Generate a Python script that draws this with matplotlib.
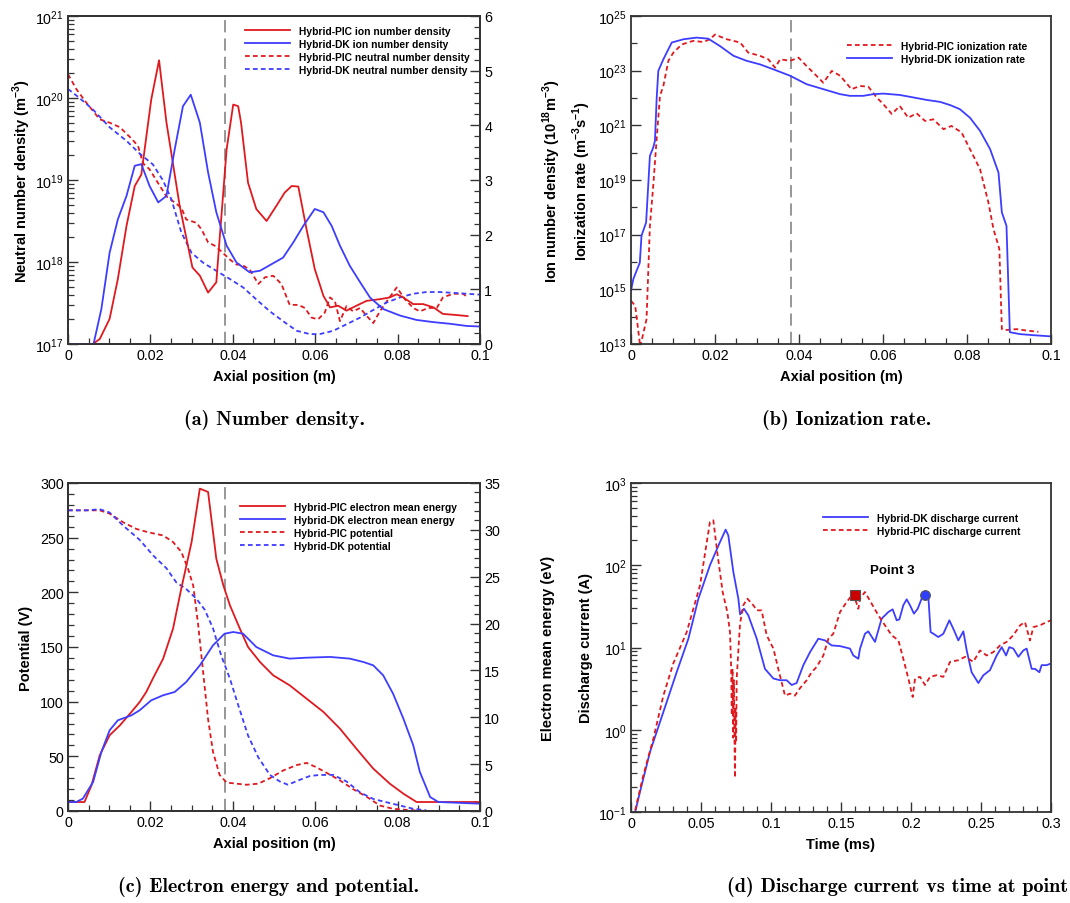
import matplotlib
matplotlib.use("Agg")
import matplotlib.pyplot as plt
from matplotlib.ticker import (FixedLocator, MultipleLocator, NullFormatter,
                               LogFormatterSciNotation, LogLocator, FuncFormatter)

plt.rcParams['font.family'] = ['Liberation Sans', 'DejaVu Sans']
plt.rcParams['mathtext.fontset'] = 'custom'
plt.rcParams['mathtext.rm'] = 'Liberation Sans'
plt.rcParams['mathtext.bf'] = 'Liberation Sans:bold'

RED = '#e0191e'
BLUE = '#3d3dff'
GRAY = '#7a7a7a'
SPINE = '#333333'

# ---------------- (a) number density ----------------
x_pic_ion = [0, 0.006, 0.0077, 0.0101, 0.0121, 0.0142, 0.0162, 0.0178, 0.0202, 0.0221,
             0.0239, 0.0271, 0.0302, 0.032, 0.034, 0.036, 0.0368, 0.0385, 0.0401, 0.0413,
             0.042, 0.0437, 0.0457, 0.0482, 0.0506, 0.0526, 0.0543, 0.0559, 0.0579, 0.0599,
             0.062, 0.0636, 0.0656, 0.0676, 0.070, 0.0725, 0.0757, 0.078, 0.0798, 0.0814,
             0.0838, 0.0862, 0.0887, 0.091, 0.0943, 0.097]
n_pic_ion = [0.0, 0.0, 0.09, 0.46, 1.19, 2.16, 2.89, 3.1, 4.47, 5.19,
             4.05, 2.53, 1.40, 1.25, 0.94, 1.13, 1.92, 3.56, 4.38, 4.35,
             4.05, 2.95, 2.47, 2.25, 2.53, 2.77, 2.89, 2.88, 2.10, 1.37,
             0.88, 0.67, 0.70, 0.61, 0.70, 0.79, 0.82, 0.85, 0.91, 0.85,
             0.73, 0.73, 0.67, 0.55, 0.53, 0.51]

x_dk_ion = [0, 0.0062, 0.0081, 0.0101, 0.0121, 0.0142, 0.0162, 0.0178, 0.0198, 0.0219,
            0.0239, 0.0259, 0.0279, 0.0298, 0.032, 0.034, 0.036, 0.0385, 0.0409, 0.0441,
            0.0466, 0.0494, 0.0522, 0.0547, 0.0571, 0.0599, 0.062, 0.064, 0.066, 0.0684,
            0.0709, 0.0733, 0.0765, 0.0806, 0.0846, 0.0887, 0.0927, 0.0968, 0.1]
n_dk_ion = [0.0, 0.0, 0.64, 1.67, 2.28, 2.71, 3.26, 3.29, 2.89, 2.59,
            2.71, 3.56, 4.35, 4.56, 4.05, 3.14, 2.41, 1.80, 1.49, 1.31,
            1.34, 1.46, 1.58, 1.86, 2.16, 2.47, 2.41, 2.16, 1.80, 1.43,
            1.13, 0.85, 0.64, 0.52, 0.44, 0.40, 0.37, 0.33, 0.32]

x_pic_neu = [0, 0.002, 0.0045, 0.0077, 0.0101, 0.0126, 0.0154, 0.017, 0.0182, 0.0198,
             0.0215, 0.0239, 0.0255, 0.0275, 0.0287, 0.0312, 0.0324, 0.034, 0.0356, 0.0372,
             0.0393, 0.0409, 0.0421, 0.0441, 0.0462, 0.0478, 0.0498, 0.0518, 0.0538, 0.0559,
             0.0575, 0.0591, 0.0607, 0.0623, 0.0636, 0.0648, 0.066, 0.0676, 0.0692, 0.0709,
             0.0725, 0.0741, 0.0757, 0.0777, 0.0798, 0.0818, 0.0838, 0.0854, 0.0874, 0.0895,
             0.091, 0.0935, 0.0959, 0.097]
n_pic_neu = [1.95e20, 1.29e20, 8.7e19, 5.5e19, 5.0e19, 4.4e19, 3.2e19, 2.6e19, 1.6e19, 1.35e19,
             9.8e18, 6.3e18, 5.5e18, 4.6e18, 3.3e18, 3.0e18, 2.5e18, 1.74e18, 1.58e18, 1.35e18,
             1.07e18, 9.3e17, 9.3e17, 8.1e17, 5.4e17, 6.5e17, 6.8e17, 5.4e17, 3.0e17, 3.0e17,
             2.75e17, 2.1e17, 2.0e17, 2.4e17, 3.7e17, 3.3e17, 1.9e17, 2.9e17, 2.5e17, 2.75e17,
             2.2e17, 1.8e17, 2.5e17, 3.5e17, 4.9e17, 3.5e17, 2.75e17, 2.5e17, 2.75e17, 2.75e17,
             3.7e17, 4.1e17, 4.1e17, 3.7e17]

x_dk_neu = [0, 0.0028, 0.0061, 0.0101, 0.0142, 0.0174, 0.0206, 0.0231, 0.0251, 0.0275,
            0.030, 0.0328, 0.036, 0.0393, 0.0425, 0.0457, 0.049, 0.0522, 0.0555, 0.0587,
            0.0611, 0.0644, 0.0676, 0.0709, 0.0741, 0.0773, 0.0806, 0.0838, 0.087, 0.0903,
            0.0935, 0.0968, 0.1]
n_dk_neu = [1.29e20, 1.0e20, 7.2e19, 4.4e19, 3.0e19, 2.1e19, 1.55e19, 9.8e18, 5.8e18, 2.3e18,
            1.29e18, 9.8e17, 7.8e17, 6.2e17, 4.9e17, 3.5e17, 2.5e17, 1.9e17, 1.45e17, 1.32e17,
            1.32e17, 1.45e17, 1.74e17, 2.1e17, 2.6e17, 3.2e17, 3.7e17, 4.1e17, 4.3e17, 4.3e17,
            4.2e17, 4.1e17, 4.0e17]

# ---------------- (b) ionization rate ----------------
x_pic_ioniz = [0, 0.001, 0.0022, 0.0037, 0.0045, 0.0053, 0.0061, 0.0069, 0.0077, 0.0089,
               0.0101, 0.0121, 0.0148, 0.0172, 0.0188, 0.020, 0.0228, 0.026, 0.0279, 0.0307,
               0.0327, 0.0343, 0.0355, 0.0379, 0.0399, 0.0418, 0.0438, 0.0458, 0.0478, 0.0498,
               0.0525, 0.0545, 0.0565, 0.0585, 0.0601, 0.0621, 0.064, 0.066, 0.068, 0.070,
               0.072, 0.0744, 0.0763, 0.0787, 0.0807, 0.0831, 0.0851, 0.0863, 0.0877, 0.0883,
               0.0887, 0.0918, 0.0942, 0.097]
r_pic_ioniz = [3.8e14, 2.5e14, 8e12, 8.1e13, 2.1e17, 6.2e18, 3.1e20, 1.2e22, 2.75e22, 2.3e23,
               4.6e23, 9.1e23, 1.23e24, 1.12e24, 1.41e24, 2.1e24, 1.41e24, 1.07e24, 4.6e23, 3.5e23,
               2.6e23, 1.29e23, 2.6e23, 2.3e23, 3.0e23, 1.48e23, 7.4e22, 3.6e22, 9.8e22, 6.5e22,
               2.1e22, 2.75e22, 2.6e22, 1.05e22, 5.9e21, 2.6e21, 5.1e21, 1.9e21, 2.75e21, 1.45e21,
               1.66e21, 7.2e20, 9.5e20, 5.5e20, 1.35e20, 2.5e19, 1.5e18, 1.6e17, 3.0e16, 3.5e13,
               3.2e13, 3.5e13, 3.1e13, 2.8e13]

x_dk_ioniz = [0, 0.00056, 0.0021, 0.0025, 0.0036, 0.0045, 0.0053, 0.0057, 0.0061, 0.0065,
              0.0077, 0.0097, 0.0125, 0.0156, 0.0184, 0.0212, 0.0244, 0.0275, 0.0307, 0.0339,
              0.0379, 0.0418, 0.0458, 0.0498, 0.0521, 0.0553, 0.0577, 0.0601, 0.064, 0.0672,
              0.0704, 0.0736, 0.076, 0.0783, 0.0807, 0.0831, 0.0855, 0.0875, 0.0883, 0.0894,
              0.0902, 0.0926, 0.0958, 0.1]
r_dk_ioniz = [8.9e14, 2.4e15, 9.5e15, 9.1e16, 2.8e17, 7.6e19, 1.55e20, 2.7e20, 8.9e21, 9.8e22,
              2.6e23, 1.07e24, 1.41e24, 1.62e24, 1.48e24, 7.9e23, 3.5e23, 2.3e23, 1.7e23, 1.12e23,
              6.5e22, 3.2e22, 2.1e22, 1.38e22, 1.2e22, 1.2e22, 1.38e22, 1.45e22, 1.29e22, 1.05e22,
              8.5e21, 7.2e21, 5.5e21, 3.9e21, 1.9e21, 6.3e20, 1.35e20, 1.86e19, 6.5e17, 2.1e17,
              2.7e13, 2.3e13, 2.1e13, 1.9e13]

# ---------------- (c) electron energy and potential ----------------
x_pic_te = [0, 0.004, 0.0057, 0.0077, 0.0101, 0.0126, 0.0154, 0.0174, 0.019, 0.0206,
            0.0231, 0.0255, 0.0275, 0.030, 0.032, 0.034, 0.036, 0.0377, 0.0393, 0.0417,
            0.0437, 0.0466, 0.0498, 0.0538, 0.0579, 0.062, 0.066, 0.070, 0.0741, 0.0781,
            0.0814, 0.0846, 0.0866, 0.1]
te_pic = [0.96, 0.96, 2.74, 5.94, 8.08, 9.14, 10.57, 11.63, 12.70, 14.13,
          16.26, 19.47, 23.74, 28.70, 34.40, 34.04, 26.92, 24.08, 21.95, 19.47,
          17.50, 15.90, 14.48, 13.41, 11.99, 10.57, 8.79, 6.65, 4.52, 2.92,
          1.85, 0.96, 0.96, 0.96]

x_dk_te = [0, 0.002, 0.0036, 0.0061, 0.0081, 0.0101, 0.0121, 0.0154, 0.0174, 0.0202,
           0.0231, 0.0259, 0.0287, 0.032, 0.0352, 0.038, 0.0401, 0.0425, 0.0457, 0.0498,
           0.0538, 0.0579, 0.0636, 0.0684, 0.0717, 0.0741, 0.0765, 0.0789, 0.0814, 0.0838,
           0.0854, 0.0879, 0.0899, 0.1]
te_dk = [0.96, 0.96, 1.32, 3.10, 6.30, 8.61, 9.68, 10.21, 10.75, 11.81,
         12.35, 12.70, 13.77, 15.54, 17.68, 18.92, 19.10, 18.92, 17.50, 16.61,
         16.26, 16.36, 16.44, 16.26, 15.90, 15.54, 14.48, 12.52, 9.86, 7.01,
         4.17, 1.49, 0.96, 0.78]

x_pic_phi = [0, 0.0077, 0.0101, 0.0134, 0.0166, 0.0194, 0.0231, 0.0255, 0.0275, 0.0291,
             0.0304, 0.0316, 0.0328, 0.034, 0.0352, 0.0368, 0.0385, 0.0409, 0.0433, 0.0462,
             0.049, 0.0522, 0.0555, 0.0579, 0.0603, 0.0632, 0.066, 0.0692, 0.0725, 0.0757,
             0.0789, 0.0822, 0.087]
phi_pic = [275, 275, 272, 264, 258, 255, 252, 246, 237, 222,
           206, 170, 127, 84, 54, 33, 26, 25, 24, 25,
           30, 37, 42, 44, 40, 34, 28, 20, 13, 5,
           2, 1, 0]

x_dk_phi = [0, 0.0045, 0.0077, 0.0101, 0.0134, 0.0174, 0.0206, 0.0239, 0.0263, 0.0287,
            0.0312, 0.0332, 0.0352, 0.0372, 0.0393, 0.0413, 0.0437, 0.0462, 0.049, 0.0514,
            0.0534, 0.0559, 0.0587, 0.0611, 0.0644, 0.0676, 0.0709, 0.0741, 0.0773, 0.0806,
            0.0838, 0.087]
phi_dk = [275, 275, 276, 273, 261, 248, 234, 222, 209, 203,
          194, 184, 167, 142, 121, 97, 69, 49, 33, 27,
          24, 28, 32, 33, 33, 27, 17, 11, 8, 5,
          2, 0.6]

# ---------------- (d) discharge current ----------------
t_dk = [0.003, 0.0064, 0.0136, 0.0231, 0.0326, 0.041, 0.0481, 0.0564, 0.0636, 0.0676,
        0.0695, 0.0731, 0.0767, 0.0779, 0.0807, 0.0838, 0.0898, 0.0957, 0.1017, 0.1064,
        0.1112, 0.1148, 0.1183, 0.1231, 0.1279, 0.1338, 0.1386, 0.1433, 0.1493, 0.1564,
        0.1588, 0.1624, 0.1636, 0.1671, 0.1695, 0.1743, 0.179, 0.1838, 0.1869, 0.1898,
        0.1917, 0.1945, 0.1969, 0.1993, 0.2021, 0.2048, 0.2076, 0.21, 0.2124, 0.214,
        0.216, 0.2195, 0.2231, 0.2274, 0.2307, 0.2338, 0.2374, 0.2398, 0.2433, 0.2481,
        0.2517, 0.2564, 0.2612, 0.2648, 0.2679, 0.2702, 0.2731, 0.2767, 0.2802, 0.2826,
        0.2862, 0.2886, 0.2917, 0.2933, 0.2969, 0.3]
i_dk = [0.1, 0.175, 0.54, 1.64, 5.0, 12.8, 39, 100, 192, 271,
        231, 83, 39, 25.3, 29.6, 24.6, 12.8, 5.5, 4.2, 4.0,
        4.0, 3.5, 3.7, 6.1, 8.8, 12.8, 12.2, 10.6, 10.4, 9.7,
        8.0, 7.3, 9.7, 14.7, 15.7, 11.7, 22.4, 27, 29.1, 21.4,
        22, 32.6, 38.5, 32.6, 25.8, 29.6, 39.3, 43.9, 41.1, 15.4,
        14.7, 13.4, 14.7, 21.4, 16.2, 12.2, 15.7, 9.2, 5.0, 3.7,
        4.6, 5.3, 8.0, 10.1, 8.0, 10.1, 9.7, 7.7, 9.2, 9.7,
        5.5, 5.5, 5.0, 6.1, 6.1, 6.4]

t_pic = [0.003, 0.0088, 0.016, 0.0231, 0.0302, 0.0398, 0.0493, 0.0564, 0.0588, 0.0619,
         0.0655, 0.0688, 0.0707, 0.0715, 0.072, 0.0725, 0.073, 0.0735, 0.074, 0.0743,
         0.0747, 0.0751, 0.0755, 0.0769, 0.0779, 0.0802, 0.0831, 0.0874, 0.0898, 0.0933,
         0.0969, 0.1017, 0.1052, 0.11, 0.1136, 0.1171, 0.1207, 0.1255, 0.129, 0.1326,
         0.1374, 0.141, 0.1445, 0.1493, 0.154, 0.1588, 0.1624, 0.1636, 0.1671, 0.1719,
         0.1767, 0.1814, 0.1862, 0.191, 0.1945, 0.1981, 0.2012, 0.2029, 0.2064, 0.21,
         0.2136, 0.2183, 0.2231, 0.2279, 0.2338, 0.2386, 0.2445, 0.2493, 0.254, 0.2588,
         0.2636, 0.2683, 0.2731, 0.2779, 0.2814, 0.285, 0.2874, 0.2921, 0.2969, 0.3]
i_pic = [0.105, 0.28, 0.78, 2.6, 6.4, 15.4, 57, 336, 352, 132,
         47, 27, 15.4, 6.0, 1.5, 5.5, 0.8, 4.0, 0.6, 0.26,
         1.8, 0.7, 4.2, 10.6, 19.5, 32.6, 39.3, 32.6, 28.3, 28.3,
         14.1, 9.7, 5.5, 2.6, 2.75, 2.6, 3.2, 4.0, 5.0, 5.8,
         8.0, 12.8, 14.7, 27, 35.7, 45.2, 29.6, 39.3, 47.3, 34.1,
         24.6, 18.6, 14.1, 12.2, 7.3, 4.2, 2.5, 4.2, 4.4, 3.5,
         4.4, 4.6, 4.4, 6.7, 7.0, 7.7, 6.7, 9.2, 8.0, 8.8,
         10.6, 11.7, 14.1, 18.6, 20.4, 12.2, 17.7, 18.6, 20.4, 21.4]

point3_pic = (0.16, 44.0)
point3_dk = (0.21, 43.5)

x_channel_exit = 0.0382

captions = ["(a) Number density.", "(b) Ionization rate.",
            "(c) Electron energy and potential.", "(d) Discharge current vs time at point 3."]

# ---------------------------------------------------------------
W, H = 1070, 904
fig = plt.figure(figsize=(W / 100, H / 100), dpi=100)


def px_axes(left, top, right, bottom):
    return fig.add_axes([left / W, 1 - bottom / H, (right - left) / W, (bottom - top) / H])


TICK_FS = 10.3
LABEL_FS = 10.5
LEG_FS = 7.4
SOLID = dict(lw=1.3)
DASH = dict(lw=1.3, dashes=(2.6, 1.8))


def style(ax):
    for s in ax.spines.values():
        s.set_color(SPINE)
        s.set_linewidth(1.3)
    ax.tick_params(which='both', direction='in', colors=SPINE, labelcolor='black',
                   labelsize=TICK_FS, top=False, right=False, pad=3)
    ax.tick_params(which='major', length=7, width=1.0)
    ax.tick_params(which='minor', length=4, width=0.9)


def style_right(ax2):
    for s in ax2.spines.values():
        s.set_color(SPINE)
        s.set_linewidth(1.3)
    ax2.tick_params(which='both', direction='in', colors=SPINE, labelcolor='black',
                    labelsize=TICK_FS, left=False, right=True, pad=3)
    ax2.tick_params(which='major', length=7, width=1.0)
    ax2.tick_params(which='minor', length=4, width=0.9)


gfmt = FuncFormatter(lambda v, p: '%g' % round(v, 6))


def legend(ax, handles, x, y):
    ax.legend(handles=handles, loc='upper left', bbox_to_anchor=(x / W, 1 - y / H),
              bbox_transform=fig.transFigure, frameon=False, borderpad=0, borderaxespad=0,
              handlelength=4.4, handletextpad=0.9, labelspacing=0.28,
              prop=dict(size=LEG_FS, weight='bold'))


def vline(ax):
    ax.axvline(x_channel_exit, color=GRAY, lw=1.1, dashes=(8, 4), zorder=1)


def bold_label(axis, text, coord):
    axis.set_label_text(text, fontsize=LABEL_FS, fontweight='bold')
    if coord is not None:
        axis.set_label_coords(coord, 0.5)


# ---- (a)
axa = px_axes(68, 17, 480, 345)
style(axa)
axa.set_yscale('log')
axa.set_xlim(0, 0.1)
axa.set_ylim(1e17, 1e21)
axa.xaxis.set_major_locator(MultipleLocator(0.02))
axa.xaxis.set_minor_locator(MultipleLocator(0.005))
axa.xaxis.set_major_formatter(gfmt)
axa.yaxis.set_major_locator(LogLocator(base=10, numticks=10))
axa.yaxis.set_minor_locator(LogLocator(base=10, subs=range(2, 10), numticks=50))
axa.yaxis.set_minor_formatter(NullFormatter())
vline(axa)
la3, = axa.plot(x_pic_neu, n_pic_neu, color=RED, **DASH)
la4, = axa.plot(x_dk_neu, n_dk_neu, color=BLUE, **DASH)
axa.set_xlabel('Axial position (m)', fontsize=LABEL_FS, fontweight='bold', labelpad=5)
bold_label(axa.yaxis, r'Neutral number density (m$^{\mathbf{-3}}$)', -0.085)

axa2 = axa.twinx()
style_right(axa2)
axa2.set_ylim(0, 6)
axa2.yaxis.set_major_locator(MultipleLocator(1))
axa2.yaxis.set_minor_locator(MultipleLocator(0.2))
la1, = axa2.plot(x_pic_ion, n_pic_ion, color=RED, **SOLID)
la2, = axa2.plot(x_dk_ion, n_dk_ion, color=BLUE, **SOLID)
bold_label(axa2.yaxis, r'Ion number density (10$^{\mathbf{18}}$m$^{\mathbf{-3}}$)', 1.148)
la1.set_label('Hybrid-PIC ion number density')
la2.set_label('Hybrid-DK ion number density')
la3.set_label('Hybrid-PIC neutral number density')
la4.set_label('Hybrid-DK neutral number density')
legend(axa2, [la1, la2, la3, la4], 245, 27)

# ---- (b)
axb = px_axes(631, 17, 1051, 345)
style(axb)
axb.set_yscale('log')
axb.set_xlim(0, 0.1)
axb.set_ylim(1e13, 1e25)
axb.xaxis.set_major_locator(MultipleLocator(0.02))
axb.xaxis.set_minor_locator(MultipleLocator(0.005))
axb.xaxis.set_major_formatter(gfmt)
axb.yaxis.set_major_locator(FixedLocator([10.0 ** k for k in range(13, 26, 2)]))
axb.yaxis.set_major_formatter(LogFormatterSciNotation())
axb.yaxis.set_minor_locator(FixedLocator([10.0 ** k for k in range(14, 25, 2)]))
axb.yaxis.set_minor_formatter(NullFormatter())
vline(axb)
lb1, = axb.plot(x_pic_ioniz, r_pic_ioniz, color=RED, label='Hybrid-PIC ionization rate', **DASH)
lb2, = axb.plot(x_dk_ioniz, r_dk_ioniz, color=BLUE, label='Hybrid-DK ionization rate', **SOLID)
axb.set_xlabel('Axial position (m)', fontsize=LABEL_FS, fontweight='bold', labelpad=5)
bold_label(axb.yaxis, r'Ionization rate (m$^{\mathbf{-3}}$s$^{\mathbf{-1}}$)', -0.09)
legend(axb, [lb1, lb2], 847, 42)

# ---- (c)
axc = px_axes(68, 484, 480, 812)
style(axc)
axc.set_xlim(0, 0.1)
axc.set_ylim(0, 300)
axc.xaxis.set_major_locator(MultipleLocator(0.02))
axc.xaxis.set_minor_locator(MultipleLocator(0.005))
axc.xaxis.set_major_formatter(gfmt)
axc.yaxis.set_major_locator(MultipleLocator(50))
axc.yaxis.set_minor_locator(MultipleLocator(10))
vline(axc)
lc3, = axc.plot(x_pic_phi, phi_pic, color=RED, label='Hybrid-PIC potential', **DASH)
lc4, = axc.plot(x_dk_phi, phi_dk, color=BLUE, label='Hybrid-DK potential', **DASH)
axc.set_xlabel('Axial position (m)', fontsize=LABEL_FS, fontweight='bold', labelpad=5)
bold_label(axc.yaxis, 'Potential (V)', -0.085)

axc2 = axc.twinx()
style_right(axc2)
axc2.set_ylim(0, 35)
axc2.yaxis.set_major_locator(MultipleLocator(5))
axc2.yaxis.set_minor_locator(MultipleLocator(1))
lc1, = axc2.plot(x_pic_te, te_pic, color=RED, label='Hybrid-PIC electron mean energy', **SOLID)
lc2, = axc2.plot(x_dk_te, te_dk, color=BLUE, label='Hybrid-DK electron mean energy', **SOLID)
bold_label(axc2.yaxis, 'Electron mean energy (eV)', 1.148)
legend(axc2, [lc1, lc2, lc3, lc4], 240, 503)

# ---- (d)
axd = px_axes(631, 484, 1051, 813)
style(axd)
axd.set_yscale('log')
axd.set_xlim(0, 0.3)
axd.set_ylim(0.1, 1000)
axd.xaxis.set_major_locator(MultipleLocator(0.05))
axd.xaxis.set_minor_locator(MultipleLocator(0.01))
axd.xaxis.set_major_formatter(gfmt)
axd.yaxis.set_major_locator(LogLocator(base=10, numticks=10))
axd.yaxis.set_minor_locator(LogLocator(base=10, subs=range(2, 10), numticks=50))
axd.yaxis.set_minor_formatter(NullFormatter())
ld1, = axd.plot(t_dk, i_dk, color=BLUE, label='Hybrid-DK discharge current', **SOLID)
ld2, = axd.plot(t_pic, i_pic, color=RED, label='Hybrid-PIC discharge current', **DASH)
axd.plot(*point3_pic, marker='s', ms=7, color='#cc0000', mec='#555555', mew=0.8, zorder=5)
axd.plot(*point3_dk, marker='o', ms=7, color='#2f3fff', mec='#555555', mew=0.8, zorder=5)
axd.text(0.187, 87, 'Point 3', fontsize=9.6, fontweight='bold', ha='center', va='center')
axd.set_xlabel('Time (ms)', fontsize=LABEL_FS, fontweight='bold', labelpad=5)
bold_label(axd.yaxis, 'Discharge current (A)', -0.09)
legend(axd, [ld1, ld2], 823, 514)

# ---- sub-captions
cap_kw = dict(fontsize=14.5, fontfamily='cmb10', va='center')
fig.text(274 / W, 1 - 420 / H, captions[0], ha='center', **cap_kw)
fig.text(847 / W, 1 - 420 / H, captions[1], ha='center', **cap_kw)
fig.text(268 / W, 1 - 887 / H, captions[2], ha='center', **cap_kw)
fig.text(727 / W, 1 - 887 / H, captions[3], ha='left', **cap_kw)

fig.savefig('out.png', dpi=100)
